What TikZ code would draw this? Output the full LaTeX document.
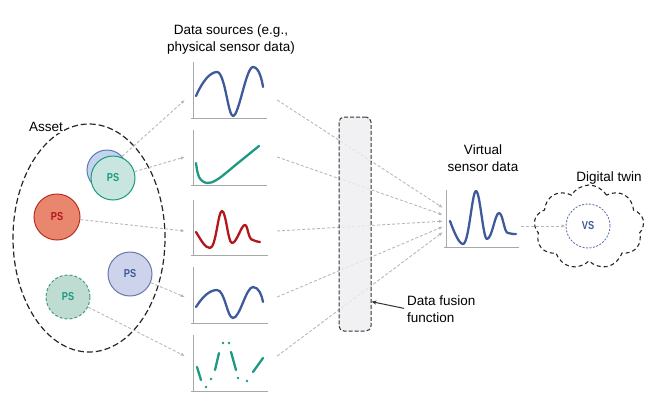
\documentclass[tikz,border=0pt]{standalone}
\usepackage{fontspec}
\setmainfont{Liberation Sans}
\usetikzlibrary{shapes.symbols,shapes.geometric,arrows.meta}
\definecolor{navy}{HTML}{3F5A9A}
\definecolor{tealc}{HTML}{1A9A82}
\definecolor{redc}{HTML}{B3171E}
\definecolor{arrg}{HTML}{B8B8B8}
\definecolor{axisg}{HTML}{A8A8A8}
\begin{document}
\begin{tikzpicture}[x=1pt,y=-1pt,
  lbl/.style={font=\fontsize{13.5}{17}\selectfont, inner sep=0pt, align=center},
  psnode/.style={circle, minimum size=44pt, inner sep=0pt, line width=1pt, font=\fontsize{11.5}{12}\selectfont\bfseries},
  chartbox/.style={rectangle, minimum width=92pt, minimum height=56pt, inner sep=0pt},
  garrow/.style={draw=arrg, line width=0.9pt, dash pattern=on 3pt off 2pt, -{Latex[length=4pt,width=3.5pt]}},
  axis/.style={draw=axisg, line width=0.9pt},
  curve/.style={line width=2.3pt, line cap=round, line join=round}
]
\useasboundingbox (0,0) rectangle (645,394);

% titles
\node[lbl] (dstitle) at (231,40) {Data sources (e.g.,\\physical sensor data)};
\node[lbl] (vtitle) at (483,158) {Virtual\\sensor data};
\node[lbl] (dtlabel) at (609,178) {Digital twin};
\node[lbl, anchor=west, align=left] (fl) at (407,309) {Data fusion\\function};

% asset
\node[ellipse, draw=black!85, line width=1.2pt, dash pattern=on 6pt off 3pt, minimum width=152pt, minimum height=228pt, inner sep=0pt] (asset) at (89,238) {};
\node[lbl, fill=white, inner sep=1pt] (assetlbl) at (46,127) {Asset};

% PS circles
\node[psnode, draw={rgb,255:red,90;green,122;blue,184}, fill={rgb,255:red,197;green,211;blue,236}, minimum size=40pt] (psb) at (107,170) {};
\node[psnode, draw=tealc, fill={rgb,255:red,200;green,230;blue,223}, text=tealc] (pst) at (113,178) {\scalebox{0.8}[1]{PS}};
\node[psnode, draw={rgb,255:red,184;green,48;blue,32}, fill={rgb,255:red,232;green,134;blue,110}, minimum size=46pt, text=redc] (psr) at (57,217) {\scalebox{0.8}[1]{PS}};
\node[psnode, draw={rgb,255:red,106;green,120;blue,172}, fill={rgb,255:red,204;green,211;blue,234}, text=navy] (psl) at (130,274) {\scalebox{0.8}[1]{PS}};
\node[psnode, draw={rgb,255:red,74;green,154;blue,136}, dash pattern=on 3pt off 2pt, fill={rgb,255:red,191;green,220;blue,211}, text=tealc] (psd) at (68,297) {\scalebox{0.8}[1]{PS}};

% chart target boxes (invisible)
\node[chartbox] (c1) at (231,100) {};
\node[chartbox] (c2) at (231,157) {};
\node[chartbox] (c3) at (231,231) {};
\node[chartbox] (c4) at (231,297) {};
\node[chartbox] (c5) at (231,356) {};
\node[rectangle, minimum width=78pt, minimum height=60pt, inner sep=0pt] (vsc) at (482,226) {};

% chart axes
\draw[axis] (193,62) -- (193,118) (191,118) -- (267,118);
\draw[axis] (193,130) -- (193,185) (191,185) -- (267,185);
\draw[axis] (193,200) -- (193,255) (191,255) -- (268,255);
\draw[axis] (193,267) -- (193,323) (191,323) -- (268,323);
\draw[axis] (193,335) -- (193,391) (191,391) -- (268,391);
\draw[axis] (446,190) -- (446,247) (444,247) -- (519,247);

% curves
\draw[curve, navy] (196,96) .. controls (202,82) and (210,72) .. (217,72)
  .. controls (225,72) and (228,116) .. (233,116)
  .. controls (239,116) and (246,67) .. (253,67)
  .. controls (259,67) and (262,80) .. (263,87);
\draw[curve, tealc] plot[smooth, tension=0.6] coordinates {(196,163) (199,177) (207,183) (218,179) (238,163) (259,146)};
\draw[curve, redc] (196,232) .. controls (201,240) and (205,248) .. (210,248)
  .. controls (216,248) and (218,211) .. (222,211)
  .. controls (226,211) and (228,243) .. (232,243)
  .. controls (237,243) and (241,225) .. (245,225)
  .. controls (248,225) and (248,240) .. (253,240)
  .. controls (255,241) and (258,242) .. (260,242);
\draw[curve, navy] (196,307) .. controls (203,296) and (210,290) .. (217,290)
  .. controls (225,290) and (227,318) .. (233,318)
  .. controls (240,318) and (246,287) .. (253,287)
  .. controls (259,287) and (262,296) .. (263,302);
\draw[curve, navy] (450,221) .. controls (454,232) and (459,244) .. (463,244)
  .. controls (469,244) and (472,191) .. (476,191)
  .. controls (480,191) and (483,239) .. (487,239)
  .. controls (492,239) and (495,213) .. (499,213)
  .. controls (503,213) and (504,233) .. (508,233)
  .. controls (511,234) and (514,234) .. (516,234);
% dotted/dashed sample curve
\draw[curve, tealc] (197,367) -- (201,380) (215,370) -- (219,353) (231,352) -- (236,370) (253,372) -- (263,358);
\foreach \p in {(206,387),(211,379),(223,343),(229,343),(238,378),(247,381)}
  \fill[tealc] \p circle (1.4pt);

% arrows PS -> charts
\draw[garrow] (psb) -- (c1.west);
\draw[garrow] (pst) -- (c2.west);
\draw[garrow] (psr) -- (c3.west);
\draw[garrow] (psl) -- (c4.west);
\draw[garrow] (psd) -- (c5.west);

% arrows charts -> virtual sensor
\draw[garrow] (c1.east) -- (vsc.155);
\draw[garrow] (c2.east) -- (vsc.164);
\draw[garrow] (c3.east) -- (vsc.173);
\draw[garrow] (c4.east) -- (vsc.181);
\draw[garrow] (c5.east) -- (vsc.189);

% fusion box
\node[rectangle, rounded corners=5pt, draw=black!80, line width=1pt, dash pattern=on 4pt off 2pt, fill={rgb,255:red,238;green,238;blue,241}, fill opacity=0.8, draw opacity=1, minimum width=32pt, minimum height=214pt, inner sep=0pt] (fus) at (355,224) {};
\draw[black!80, line width=1pt, -{Stealth[length=5pt,width=4pt]}, shorten <=3pt] (fl.west) -- (fus.-78);

% digital twin
\node[cloud, cloud puffs=9, cloud puff arc=120, aspect=1.35, draw=black!85, line width=1.1pt, dash pattern=on 4pt off 3pt, minimum width=110pt, minimum height=84pt, inner sep=0pt] (dt) at (589,227) {};
\node[circle, minimum size=44pt, inner sep=0pt, draw={rgb,255:red,106;green,120;blue,172}, dash pattern=on 2pt off 1.5pt, line width=0.9pt, fill=white, text=navy, font=\fontsize{11.5}{12}\selectfont\bfseries] (vs) at (588,226) {\scalebox{0.8}[1]{VS}};
\draw[garrow] (vsc.east) -- (vs.west);
\end{tikzpicture}
\end{document}
